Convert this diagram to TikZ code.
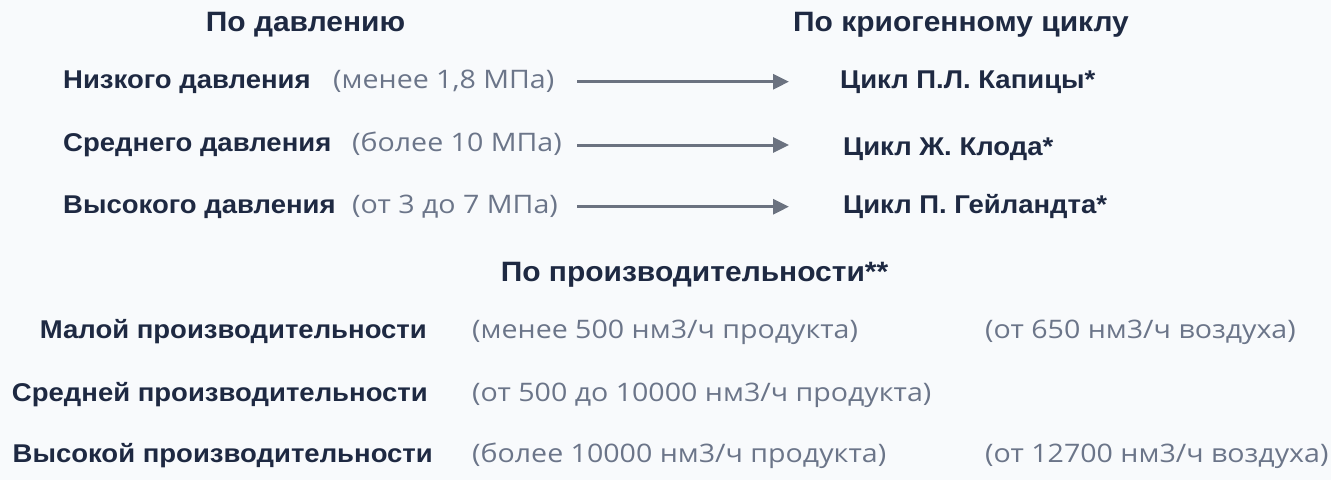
\documentclass[tikz,border=0pt]{standalone}
\usepackage{fontspec}
\setmainfont{Liberation Sans}[FakeStretch=1.07]
\newfontfamily\notefont{Open Sans}[FakeStretch=1.12]
\usetikzlibrary{arrows.meta}
\definecolor{navy}{HTML}{1E2942}
\definecolor{slate}{HTML}{6B7589}
\definecolor{arrowgray}{HTML}{6B7280}
\definecolor{paper}{HTML}{F8FAFC}

\begin{document}
\begin{tikzpicture}[x=1pt,y=-1pt]
    \tikzstyle{head} = [font=\fontsize{28}{30}\selectfont\bfseries, text=navy, inner sep=0pt, anchor=base]
    \tikzstyle{item} = [font=\fontsize{25.7}{28}\selectfont\bfseries, text=navy, inner sep=0pt, anchor=base west]
    \tikzstyle{rate} = [item, anchor=base east]
    \tikzstyle{note} = [font=\notefont\fontsize{25.5}{28}\selectfont, text=slate, inner sep=0pt, anchor=base west]
    \tikzstyle{link} = [-{Triangle[length=16pt,width=15pt]}, line width=3pt, draw=arrowgray]
        \fill[paper] (0,0) rectangle (1331,480);
        \useasboundingbox (0,0) rectangle (1331,480);
        \node[head] (pressure) at (305.5,31.7) {По давлению};
        \node[head] (cycle) at (961,31.7) {По криогенному циклу};
        \node[item] (low) at (63,88.3) {Низкого давления};
        \node[item] (mid) at (63,151.7) {Среднего давления};
        \node[item] (high) at (63,213.3) {Высокого давления};
        \node[note] (lownote) at (333,88.3) {(менее 1,8 МПа)};
        \node[note] (midnote) at (352,151.7) {(более 10 МПа)};
        \node[note] (highnote) at (352,213.3) {(от 3 до 7 МПа)};
        \node[item] (kapitsa) at (840,88.3) {Цикл П.Л. Капицы*};
        \node[item] (claude) at (843,155) {Цикл Ж. Клода*};
        \node[item] (heylandt) at (843,213.3) {Цикл П. Гейландта*};
        \coordinate (lowstart) at (577,81.7);
        \coordinate (midstart) at (577,145);
        \coordinate (highstart) at (577,206.7);
        \draw[link, shorten >=51pt] (lowstart) -- (lowstart -| kapitsa.west);
        \draw[link, shorten >=54pt] (midstart) -- (midstart -| claude.west);
        \draw[link, shorten >=54pt] (highstart) -- (highstart -| heylandt.west);
        \node[head] (output) at (694.5,281.7) {По производительности**};
        \node[rate] (small) at (427,338.3) {Малой производительности};
        \node[rate] (medium) at (428,401.7) {Средней производительности};
        \node[rate] (large) at (433,462.7) {Высокой производительности};
        \node[note] (smallnote) at (472,338.3) {(менее 500 нм3/ч продукта)};
        \node[note] (mediumnote) at (472,401.7) {(от 500 до 10000 нм3/ч продукта)};
        \node[note] (largenote) at (472,462.7) {(более 10000 нм3/ч продукта)};
        \node[note] (smallair) at (985,338.3) {(от 650 нм3/ч воздуха)};
        \node[note] (largeair) at (985,462.7) {(от 12700 нм3/ч воздуха)};
    \end{tikzpicture}
\end{document}
